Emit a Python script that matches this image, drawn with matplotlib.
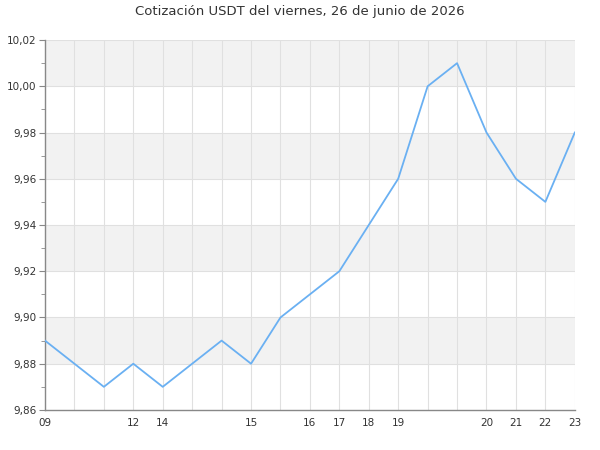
import matplotlib
matplotlib.use('Agg')
import matplotlib.pyplot as plt
from matplotlib.ticker import FuncFormatter, MultipleLocator
import numpy as np

# precio por tramo de 30 min (viernes)
precios = [9.89, 9.88, 9.87, 9.88, 9.87, 9.88, 9.89, 9.88, 9.90, 9.91,
           9.92, 9.94, 9.96, 10.00, 10.01, 9.98, 9.96, 9.95, 9.98]
horas = ['09', '', '', '12', '14', '', '', '15', '', '16',
         '17', '18', '19', '', '', '20', '21', '22', '23']
titulo = 'Cotización USDT del viernes, 26 de junio de 2026'

x = np.arange(len(precios))

fig = plt.figure(figsize=(6, 4.5), dpi=100)
ax = fig.add_axes([0.075, 0.089, 0.883, 0.822])

ymin, ymax = 9.86, 10.02
# bandas grises alternas
for lo in [9.88, 9.92, 9.96, 10.00]:
    ax.axhspan(lo, lo + 0.02, color='#f2f2f2', zorder=0, lw=0)

for xi in x:
    ax.axvline(xi, color='#e0e0e0', lw=0.8, zorder=1)
for yv in np.arange(9.88, 10.021, 0.02):
    ax.axhline(yv, color='#e0e0e0', lw=0.8, zorder=1)

ax.plot(x, precios, color='#6ab0f2', lw=1.3, zorder=3)

ax.set_xlim(0, len(precios) - 1)
ax.set_ylim(ymin, ymax)
ax.set_xticks(x)
ax.set_xticklabels(horas)
ax.yaxis.set_major_locator(MultipleLocator(0.02))
ax.yaxis.set_minor_locator(MultipleLocator(0.01))
ax.yaxis.set_major_formatter(FuncFormatter(lambda v, p: ('%.2f' % v).replace('.', ',')))

for s in ['top', 'right']:
    ax.spines[s].set_visible(False)
for s in ['left', 'bottom']:
    ax.spines[s].set_color('#888888')
    ax.spines[s].set_linewidth(1)

ax.tick_params(axis='x', length=0, labelsize=7.5, colors='#333333', pad=6)
ax.tick_params(axis='y', which='major', length=4, color='#888888', labelsize=7.5, labelcolor='#333333', pad=2)
ax.tick_params(axis='y', which='minor', length=3, color='#888888')

fig.text(0.5, 0.975, titulo, ha='center', va='center', fontsize=9.5, color='#333333')

fig.savefig('out.png', dpi=100)
